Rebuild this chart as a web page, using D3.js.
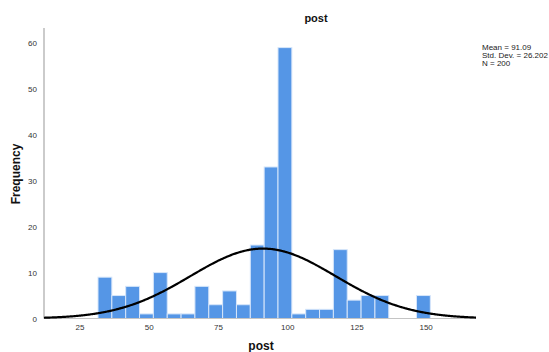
<!DOCTYPE html>
<html>
<head>
<meta charset="utf-8">
<script src="https://cdn.jsdelivr.net/npm/d3@7"></script>
<style>
  body { margin: 0; background: #fff; }
  text { font-family: Arial, "Liberation Sans", sans-serif; }
</style>
</head>
<body>
<div id="chart"></div>
<script>
// --- DATA ---
var binStart = 31.5;
var binWidth = 5;
var counts = [9, 5, 7, 1, 10, 1, 1, 7, 3, 6, 3, 16, 33, 59, 1, 2, 2, 15, 4, 5, 5, 0, 0, 5];
var xTicks = [25, 50, 75, 100, 125, 150];
var yTicks = [0, 10, 20, 30, 40, 50, 60];
var meanVal = 91.09, sdVal = 26.202, nVal = 200;
var statLines = ["Mean = 91.09", "Std. Dev. = 26.202", "N = 200"];

// --- SETUP ---
var width = 549, height = 352;
var svg = d3.select("#chart").append("svg")
  .attr("width", width).attr("height", height);

var x = d3.scaleLinear().domain([12, 168]).range([44, 476]);
var y = d3.scaleLinear().domain([0, 60]).range([318.5, 43]);

var bins = counts.map(function(c, i) {
  return { x0: binStart + i * binWidth, x1: binStart + (i + 1) * binWidth, n: c };
});

// bars
svg.selectAll("rect.bar").data(bins.filter(function(d) { return d.n > 0; }))
  .enter().append("rect")
  .attr("class", "bar")
  .attr("x", function(d) { return x(d.x0); })
  .attr("y", function(d) { return y(d.n); })
  .attr("width", function(d) { return x(d.x1) - x(d.x0); })
  .attr("height", function(d) { return y(0) - y(d.n); })
  .attr("fill", "#5596e6")
  .attr("stroke", "#d6e6fa")
  .attr("stroke-width", 1);

// axis lines
svg.append("line")
  .attr("x1", x(12)).attr("x2", x(12))
  .attr("y1", 28).attr("y2", y(0))
  .attr("stroke", "#a8a8a8").attr("stroke-width", 1.2);
svg.append("line")
  .attr("x1", x(12)).attr("x2", x(168))
  .attr("y1", y(0)).attr("y2", y(0))
  .attr("stroke", "#c4c4c4").attr("stroke-width", 1.2);

// normal curve
var peak = nVal * binWidth / (sdVal * Math.sqrt(2 * Math.PI));
var curvePts = d3.range(12, 168.01, 0.5).map(function(v) {
  var z = (v - meanVal) / sdVal;
  return [v, peak * Math.exp(-0.5 * z * z)];
});
svg.append("path")
  .datum(curvePts)
  .attr("d", d3.line().x(function(d) { return x(d[0]); }).y(function(d) { return y(d[1]); }).curve(d3.curveBasis))
  .attr("fill", "none")
  .attr("stroke", "#000")
  .attr("stroke-width", 2.2);

// tick labels
svg.selectAll("text.xt").data(xTicks).enter().append("text")
  .attr("x", function(d) { return x(d); })
  .attr("y", 330)
  .attr("text-anchor", "middle")
  .attr("font-size", 8)
  .attr("fill", "#333")
  .text(function(d) { return d; });

svg.selectAll("text.yt").data(yTicks).enter().append("text")
  .attr("x", 37)
  .attr("y", function(d) { return y(d) + 3; })
  .attr("text-anchor", "end")
  .attr("font-size", 8)
  .attr("fill", "#333")
  .text(function(d) { return d; });

// titles
svg.append("text")
  .attr("x", 316).attr("y", 22)
  .attr("text-anchor", "middle")
  .attr("font-size", 11).attr("font-weight", "bold")
  .attr("fill", "#111")
  .text("post");

svg.append("text")
  .attr("x", 261).attr("y", 350)
  .attr("text-anchor", "middle")
  .attr("font-size", 12).attr("font-weight", "bold")
  .attr("fill", "#111")
  .text("post");

svg.append("text")
  .attr("transform", "translate(20,174) rotate(-90)")
  .attr("text-anchor", "middle")
  .attr("font-size", 12).attr("font-weight", "bold")
  .attr("fill", "#111")
  .text("Frequency");

// stats
svg.selectAll("text.stat").data(statLines).enter().append("text")
  .attr("x", 482)
  .attr("y", function(d, i) { return 50 + i * 8; })
  .attr("font-size", 8)
  .attr("fill", "#222")
  .text(function(d) { return d; });
</script>
</body>
</html>
